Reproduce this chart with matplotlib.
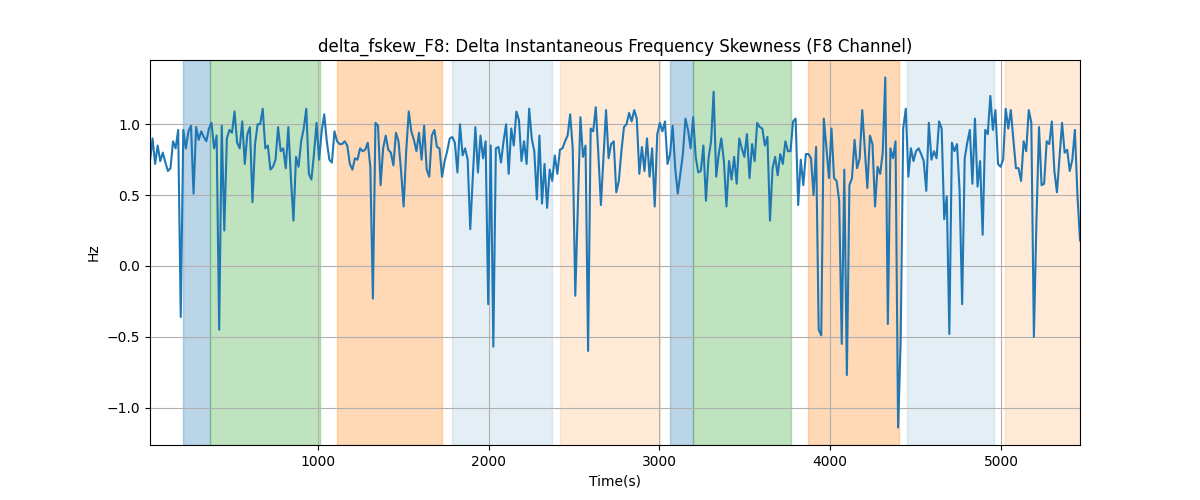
import numpy as np
import matplotlib
matplotlib.use("Agg")
import matplotlib.pyplot as plt

t_start = 16.0
t_end = 5463.0

values = [
    0.74, 0.90, 0.72, 0.85, 0.74, 0.80, 0.73, 0.67, 0.69, 0.88, 0.83, 0.96, -0.36, 0.96,
    0.83, 0.95, 0.99, 0.51, 0.98, 0.89, 0.95, 0.91, 0.88, 0.97, 1.01, 0.83, 0.92, -0.45,
    0.99, 0.25, 0.90, 0.96, 0.94, 1.09, 0.87, 0.83, 1.02, 0.72, 0.93, 0.98, 0.45, 0.86, 1.00,
    1.00, 1.11, 0.83, 0.85, 0.68, 0.70, 0.75, 0.98, 0.81, 0.83, 0.69, 0.98, 0.62, 0.32, 0.77,
    0.70, 0.88, 0.97, 1.11, 0.65,
    0.61, 0.79, 1.01, 0.75, 0.95, 1.07, 0.88, 0.75, 0.73, 0.95, 0.88, 0.86, 0.86, 0.88, 0.85,
    0.72, 0.68, 0.76, 0.75, 0.83, 0.81, 0.82, 0.87, 0.70, -0.23, 1.01, 0.99, 0.57, 0.83, 0.92,
    0.82, 0.80, 0.71, 0.94, 0.88, 0.67, 0.42, 0.81, 1.09, 0.95, 0.89, 0.81, 0.94, 0.75, 0.99,
    0.68, 0.63, 0.92, 0.96, 0.84, 0.83, 0.63, 0.74, 0.81,
    0.90, 0.91, 0.87, 0.66, 1.00, 0.78, 0.83, 0.75, 0.26, 0.63, 0.98, 0.66, 0.92, 0.76, 0.88,
    -0.27, 0.85, -0.57, 0.83, 0.84, 0.73, 0.88, 1.00, 0.65, 0.97, 0.85, 1.09, 1.03, 0.74, 0.88,
    0.72, 1.11, 0.90, 0.81, 0.47, 0.92, 0.44, 0.72, 0.41, 0.68, 0.60, 0.78, 0.65, 0.82, 0.83,
    0.88, 0.92, 1.07, 0.83, -0.21, 0.43, 1.05, 0.77, 0.85, -0.60, 0.97, 0.95, 1.12, 0.79,
    0.43, 0.76, 1.10, 0.76, 0.86, 0.88, 0.52, 0.60, 0.81, 0.98, 1.00, 1.08, 1.02, 1.10, 1.04,
    0.65, 0.84, 0.67, 0.90, 0.63, 0.83, 0.42, 0.93, 1.01, 0.95, 1.02, 0.72, 0.79, 0.99, 0.69,
    0.51, 0.65, 0.79, 1.04, 0.96, 0.83, 1.05, 0.77, 0.66, 0.67, 0.85, 0.46, 0.76, 0.88, 1.23,
    0.63, 0.79, 0.90, 0.74, 0.42, 0.74, 0.61, 0.77, 0.58, 0.90, 0.83, 0.77, 0.93, 0.62,
    0.86, 0.74, 1.01, 0.98, 0.97, 0.85, 0.91, 0.32, 0.69, 0.77, 0.64, 0.79, 0.72, 0.88, 0.81,
    0.81, 1.02, 1.04, 0.43, 0.75, 0.57, 0.79, 0.79, 0.76, 0.50, 0.84, -0.45, -0.49, 1.04, 0.84,
    0.62, 0.97, 0.62, 0.60, 0.46, -0.55, 0.68, -0.77, 0.57, 0.62, 0.89, 0.69, 0.76, 1.10, 0.83,
    0.55, 0.92, 0.86, 0.42, 0.70, 0.65, 0.80, 1.33, -0.41, 0.83, 0.76, 0.88, -1.14, -0.53,
    0.97, 1.11, 0.63, 0.83, 0.74, 0.81, 0.83, 0.79, 0.74, 0.53, 1.01, 0.75, 0.81, 0.76, 1.02,
    0.97, 0.33, 0.49, -0.48, 0.87, 0.81, 0.86, 0.53, -0.27, 0.76, 0.87, 0.96, 0.58, 1.04, 0.56,
    0.74, 0.22, 0.96, 0.93, 1.20, 0.96, 1.10, 0.72, 0.70, 0.75, 1.11, 0.97, 1.10, 0.89, 0.69,
    0.69, 0.60, 0.88, 0.81, 1.10, 1.01, -0.50, 0.32, 0.98, 0.57, 0.58, 0.88, 0.86, 1.02, 0.67,
    0.52, 0.77, 1.01, 0.80, 0.82, 0.67, 0.75, 0.96, 0.50, 0.18,
]

span_starts = [209, 367, 1111, 1785, 2417, 3061, 3196, 3870, 4450, 5024]
span_ends = [367, 1012, 1726, 2370, 3003, 3196, 3770, 4403, 4959, 5463]
span_colors = ["tab:blue", "tab:green", "tab:orange", "tab:blue", "tab:orange",
               "tab:blue", "tab:green", "tab:orange", "tab:blue", "tab:orange"]
span_alphas = [0.3, 0.3, 0.3, 0.12, 0.16, 0.3, 0.3, 0.3, 0.12, 0.16]

times = np.linspace(t_start, t_end, len(values))

fig, ax = plt.subplots(figsize=(12, 5), dpi=100)
for s, e, c, a in zip(span_starts, span_ends, span_colors, span_alphas):
    ax.axvspan(s, e, color=c, alpha=a)
ax.plot(times, values, color="tab:blue")
ax.set_xlim(times[0], times[-1])
ax.grid(True)
ax.set_title("delta_fskew_F8: Delta Instantaneous Frequency Skewness (F8 Channel)")
ax.set_xlabel("Time(s)")
ax.set_ylabel("Hz")
fig.savefig("out.png")
